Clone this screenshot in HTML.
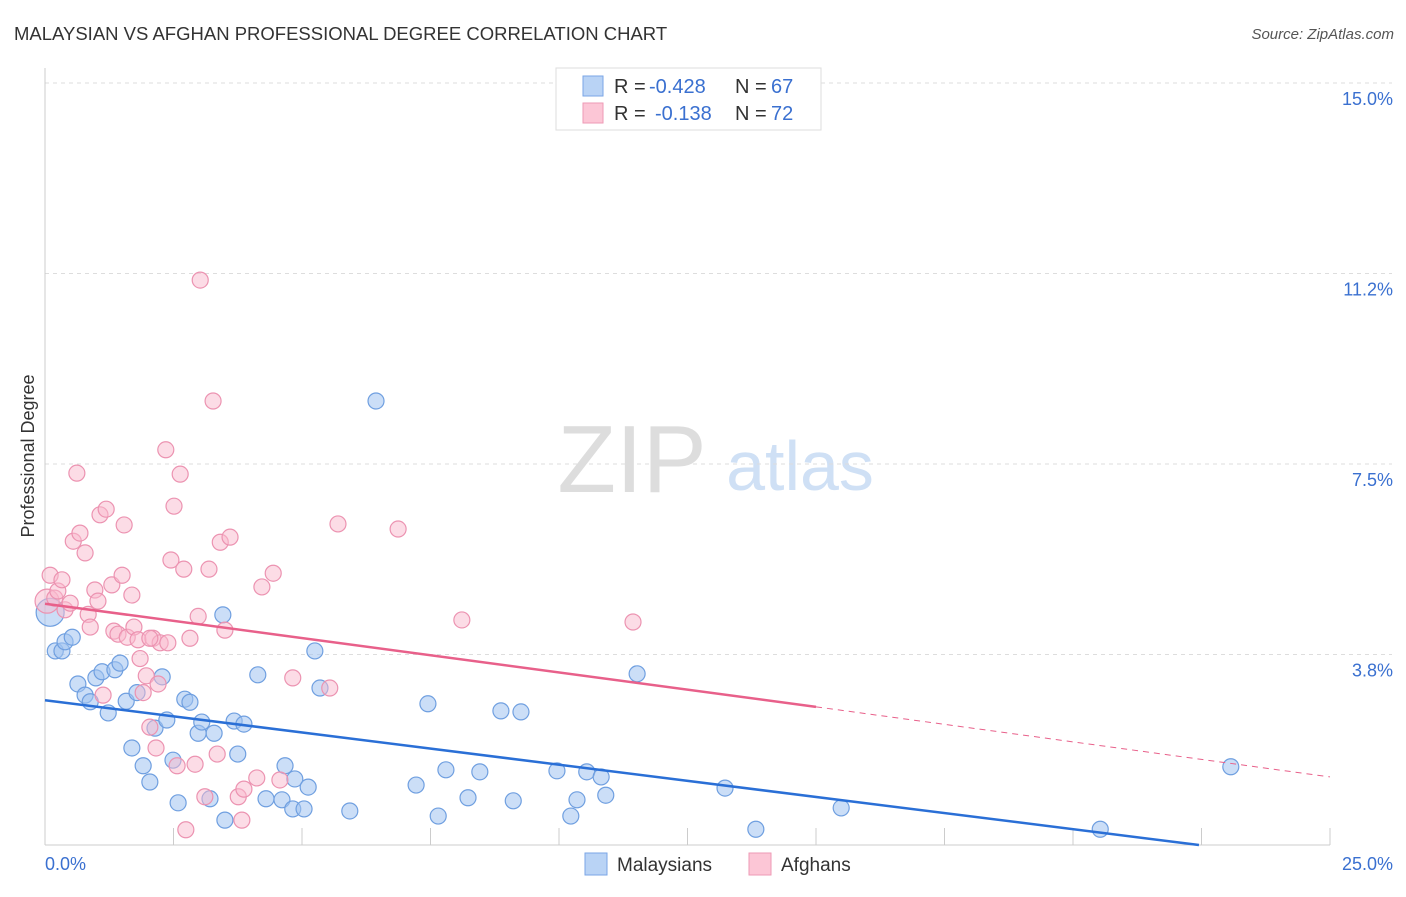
<!DOCTYPE html>
<html><head><meta charset="utf-8"><style>
body{margin:0;background:#fff;font-family:"Liberation Sans",sans-serif}
svg text{font-family:"Liberation Sans",sans-serif}
</style></head><body>
<svg id="c" width="1406" height="892" xmlns="http://www.w3.org/2000/svg">
<text x="14" y="40" font-size="18.5" fill="#333">MALAYSIAN VS AFGHAN PROFESSIONAL DEGREE CORRELATION CHART</text>
<text x="1394" y="39" font-size="15" fill="#555" text-anchor="end" font-style="italic">Source: ZipAtlas.com</text>
<text x="34" y="456" font-size="18" fill="#333" transform="rotate(-90 34 456)" text-anchor="middle">Professional Degree</text>
<text x="632" y="492" font-size="96" fill="#ddd" font-family="Liberation Serif" text-anchor="middle">ZIP</text>
<text x="800" y="490" font-size="70" fill="#cfe0f5" text-anchor="middle">atlas</text>
<g id="grid"></g><g id="pts"></g><g id="lines"></g>
<g>
<rect x="556" y="68" width="265" height="62" fill="#fff" stroke="#ddd"/>
<rect x="583" y="76" width="20" height="20" fill="#b9d3f5" stroke="#7aa6e6"/>
<rect x="583" y="103" width="20" height="20" fill="#fcc6d6" stroke="#ee9ab5"/>
<text x="614" y="93" font-size="20" fill="#333">R =</text>
<text x="649" y="93" font-size="20" fill="#3a70d0">-0.428</text>
<text x="735" y="93" font-size="20" fill="#333">N =</text>
<text x="771" y="93" font-size="20" fill="#3a70d0">67</text>
<text x="614" y="120" font-size="20" fill="#333">R =</text>
<text x="655" y="120" font-size="20" fill="#3a70d0">-0.138</text>
<text x="735" y="120" font-size="20" fill="#333">N =</text>
<text x="771" y="120" font-size="20" fill="#3a70d0">72</text>
</g>
<g>
<rect x="585" y="853" width="22" height="22" fill="#b9d3f5" stroke="#7aa6e6"/>
<text x="617" y="871" font-size="19" fill="#333">Malaysians</text>
<rect x="749" y="853" width="22" height="22" fill="#fcc6d6" stroke="#ee9ab5"/>
<text x="781" y="871" font-size="19" fill="#333">Afghans</text>
</g>
</svg>
<script>
const xTicks=[0,25];
const yTicks=[3.75,7.5,11.25,15];
const yTickLabels=["3.8%","7.5%","11.2%","15.0%"];
const malaysiansX=[0.1,0.2,0.33,0.39,0.53,0.64,0.78,0.88,0.99,1.11,1.23,1.36,1.46,1.58,1.69,1.79,1.91,2.04,2.14,2.28,2.37,2.49,2.59,2.72,2.82,2.98,3.05,3.21,3.29,3.46,3.5,3.68,3.75,3.87,4.14,4.3,4.61,4.67,4.86,4.82,5.04,5.12,5.25,5.35,5.93,6.44,7.22,7.45,7.65,7.8,8.23,8.46,8.87,9.11,9.26,9.96,10.23,10.35,10.54,10.82,10.91,11.52,13.23,13.83,15.49,20.53,23.07];
const malaysiansY=[4.58,3.82,3.82,4.0,4.09,3.17,2.95,2.82,3.29,3.41,2.6,3.45,3.58,2.83,1.91,3.0,1.56,1.24,2.3,3.31,2.46,1.67,0.83,2.87,2.81,2.2,2.42,0.91,2.2,4.53,0.49,2.44,1.79,2.38,3.35,0.91,0.89,1.56,1.3,0.71,0.71,1.14,3.82,3.09,0.67,8.74,1.18,2.78,0.57,1.48,0.93,1.44,2.64,0.87,2.62,1.46,0.57,0.89,1.44,1.34,0.98,3.37,1.12,0.31,0.73,0.31,1.54];
const afghansX=[0.04,0.1,0.19,0.25,0.33,0.39,0.49,0.55,0.62,0.68,0.78,0.84,0.88,0.97,1.03,1.07,1.13,1.19,1.3,1.34,1.42,1.5,1.54,1.6,1.69,1.73,1.81,1.91,1.97,2.04,2.1,2.16,2.2,2.24,2.35,2.39,2.45,2.51,2.57,2.63,2.7,2.74,2.82,2.92,2.98,3.02,3.11,3.19,3.27,3.35,3.41,3.5,3.6,3.76,3.83,3.87,4.12,4.22,4.44,4.57,4.82,5.54,5.7,6.87,8.11,11.44,2.04,1.85];
const afghansY=[4.8,5.31,4.86,5.0,5.22,4.63,4.76,5.98,7.32,6.14,5.75,4.54,4.29,5.02,4.8,6.5,2.95,6.61,5.12,4.21,4.15,5.31,6.3,4.09,4.92,4.29,4.04,3.0,3.33,2.32,4.07,1.91,3.17,3.98,7.78,3.98,5.61,6.67,1.56,7.3,5.43,0.3,4.07,1.59,4.5,11.12,0.95,5.43,8.74,1.79,5.96,4.23,6.06,0.95,0.49,1.1,1.32,5.08,5.35,1.28,3.29,3.09,6.32,6.22,4.43,4.39,4.07,3.67];
const bluTrend=[0,2.85,22.45,0.0];
const pinkTrend=[0,4.75,15,2.72,25,1.34];
const X=v=>45+v*51.4, Y=v=>845-v*50.8;
const NS="http://www.w3.org/2000/svg";
function mk(t,a,p){const e=document.createElementNS(NS,t);for(const k in a)e.setAttribute(k,a[k]);p.appendChild(e);return e;}
const grid=document.getElementById('grid'),pts=document.getElementById('pts'),lines=document.getElementById('lines');
yTicks.forEach((v,i)=>{
 const l=mk('line',{x1:45,x2:1392,y1:Y(v),y2:Y(v),stroke:'#ddd','stroke-dasharray':'4,4'},grid);
 
 
 const t=mk('text',{x:1393,y:Y(v)+22,'font-size':18,fill:'#3a70d0','text-anchor':'end'},grid);t.textContent=yTickLabels[i];
 
 
});
mk('line',{x1:45,x2:45,y1:68,y2:845,stroke:'#ccc'},grid);
mk('line',{x1:45,x2:1330,y1:845,y2:845,stroke:'#ccc'},grid);
for(let i=0;i<=10;i++){mk('line',{x1:X(i*2.5),x2:X(i*2.5),y1:828,y2:845,stroke:'#ccc'},grid);}
xTicks.forEach((v,i)=>{const t=mk('text',{x:i?1393:45,y:870,'font-size':18,fill:'#3a70d0','text-anchor':i?'end':'start'},grid);t.textContent=v.toFixed(1)+'%';
 
 });
malaysiansX.forEach((v,i)=>{const c=mk('circle',{cx:X(v),cy:Y(malaysiansY[i]),r:i==0?14:8,fill:'rgba(160,195,240,0.55)',stroke:'#6f9fe0','stroke-width':1.2},pts);
 
 });
afghansX.forEach((v,i)=>{const c=mk('circle',{cx:X(v),cy:Y(afghansY[i]),r:i==0?12:8,fill:'rgba(250,185,205,0.5)',stroke:'#ec93b1','stroke-width':1.2},pts);
 
 });
const b=mk('line',{x1:X(bluTrend[0]),y1:Y(bluTrend[1]),x2:X(bluTrend[2]),y2:Y(bluTrend[3]),stroke:'#2a6fd6','stroke-width':2.5},lines);


const p=mk('line',{x1:X(pinkTrend[0]),y1:Y(pinkTrend[1]),x2:X(pinkTrend[2]),y2:Y(pinkTrend[3]),stroke:'#e8608a','stroke-width':2.5},lines);


const pd=mk('line',{x1:X(pinkTrend[2]),y1:Y(pinkTrend[3]),x2:X(pinkTrend[4]),y2:Y(pinkTrend[5]),stroke:'#e8608a','stroke-width':1,'stroke-dasharray':'6,5'},lines);


</script>
</body></html>
